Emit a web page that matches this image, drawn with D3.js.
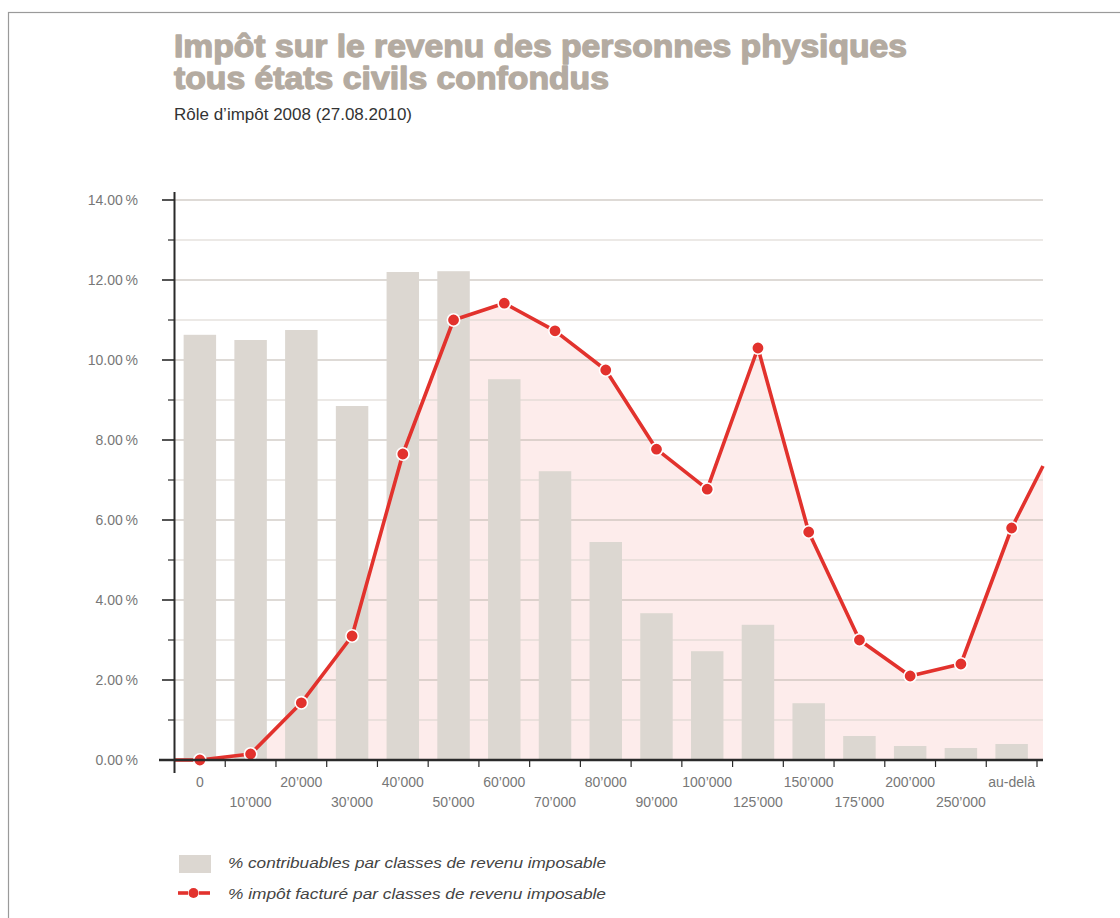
<!DOCTYPE html>
<html>
<head>
<meta charset="UTF-8">
<title>Impôt sur le revenu des personnes physiques</title>
<script src="https://cdn.jsdelivr.net/npm/d3@7"></script>
<style>
	body { margin: 0; background: #fff; }
	svg { display: block; }
</style>
</head>
<body>
<svg id="chart" width="1120" height="918"></svg>
<script>
// classes de revenu imposable
var categories = ["0", "10’000", "20’000", "30’000", "40’000", "50’000", "60’000", "70’000",
	"80’000", "90’000", "100’000", "125’000", "150’000", "175’000", "200’000", "250’000", "au-delà"];

// % contribuables par classe (barres)
var taxpayersPct = [10.63, 10.5, 10.75, 8.85, 12.2, 12.22, 9.52, 7.22, 5.45, 3.67, 2.72, 3.38, 1.42, 0.6, 0.35, 0.3, 0.4];

// % impôt facturé par classe (ligne)
var taxPct = [0, 0.15, 1.43, 3.1, 7.65, 11.0, 11.42, 10.73, 9.75, 7.77, 6.77, 10.3, 5.7, 3.0, 2.1, 2.4, 5.8];
var taxEdgeLeft = 0;
var taxEdgeRight = 7.35;

var yMajorTicks = [0, 2, 4, 6, 8, 10, 12, 14];
var yMinorTicks = [1, 3, 5, 7, 9, 11, 13];

var RED = "#e2322d";
var BAR = "#dcd7d1";
var PINK = "#fdeceb";
var GREY_TEXT = "#777";

var svg = d3.select("#chart");

// cadre
svg.append("rect")
	.attr("x", 8.5).attr("y", 12.5)
	.attr("width", 1200).attr("height", 1000)
	.attr("fill", "none").attr("stroke", "#9a9a9a").attr("stroke-width", 1.2);

// titre
var title = svg.append("g").attr("fill", "#b4aba1").attr("stroke", "#b4aba1").attr("stroke-width", 1.3)
	.attr("stroke-linejoin", "round")
	.style("font-family", "Liberation Sans, Arial, sans-serif").style("font-weight", "bold").style("font-size", "31px");
title.append("text").attr("x", 174).attr("y", 57)
	.attr("textLength", 733).attr("lengthAdjust", "spacingAndGlyphs")
	.text("Impôt sur le revenu des personnes physiques");
title.append("text").attr("x", 174).attr("y", 89)
	.attr("textLength", 435).attr("lengthAdjust", "spacingAndGlyphs")
	.text("tous états civils confondus");

svg.append("text").attr("x", 174).attr("y", 120)
	.attr("fill", "#333")
	.style("font-family", "Liberation Sans, Arial, sans-serif").style("font-size", "16px")
	.attr("textLength", 238).attr("lengthAdjust", "spacingAndGlyphs")
	.text("Rôle d’impôt 2008 (27.08.2010)");

// échelles
var left = 174.5, bandEnd = 1037, gridEnd = 1043;
var x = d3.scaleBand().domain(categories).range([left, bandEnd]).paddingInner(0.36).paddingOuter(0.18);
var step = x.step();
var cx = function (c) { return x(c) + x.bandwidth() / 2; };
var y = d3.scaleLinear().domain([0, 14]).range([760, 200]);

var plot = svg.append("g");

// surface rose sous la ligne
var linePts = [[left, taxEdgeLeft]]
	.concat(categories.map(function (c, i) { return [cx(c), taxPct[i]]; }))
	.concat([[gridEnd, taxEdgeRight]]);

plot.append("path")
	.datum(linePts)
	.attr("fill", PINK)
	.attr("d", d3.area().x(function (d) { return d[0]; }).y0(y(0)).y1(function (d) { return y(d[1]); }));

// grille
plot.selectAll(".gmin").data(yMinorTicks).enter().append("line")
	.attr("x1", left).attr("x2", gridEnd)
	.attr("y1", function (d) { return y(d); }).attr("y2", function (d) { return y(d); })
	.attr("stroke", "#d9d4ce").attr("stroke-width", 1.2);
plot.selectAll(".gmaj").data(yMajorTicks.filter(function (d) { return d > 0; })).enter().append("line")
	.attr("x1", left).attr("x2", gridEnd)
	.attr("y1", function (d) { return y(d); }).attr("y2", function (d) { return y(d); })
	.attr("stroke", "#bdb6ae").attr("stroke-width", 1.2);

// barres
plot.selectAll(".bar").data(categories).enter().append("rect")
	.attr("x", function (c) { return x(c); })
	.attr("width", x.bandwidth())
	.attr("y", function (c, i) { return y(taxpayersPct[i]); })
	.attr("height", function (c, i) { return y(0) - y(taxpayersPct[i]); })
	.attr("fill", BAR);

// axe Y
var yAxis = svg.append("g");
yAxis.append("line").attr("x1", left).attr("x2", left).attr("y1", 192).attr("y2", 773)
	.attr("stroke", "#2a2a2a").attr("stroke-width", 2);
yAxis.selectAll(".tmaj").data(yMajorTicks).enter().append("line")
	.attr("x1", 162).attr("x2", left)
	.attr("y1", function (d) { return y(d); }).attr("y2", function (d) { return y(d); })
	.attr("stroke", "#2a2a2a").attr("stroke-width", 1.6);
yAxis.selectAll(".tmin").data(yMinorTicks).enter().append("line")
	.attr("x1", 168).attr("x2", left)
	.attr("y1", function (d) { return y(d); }).attr("y2", function (d) { return y(d); })
	.attr("stroke", "#2a2a2a").attr("stroke-width", 1.2);
yAxis.selectAll(".ylab").data(yMajorTicks).enter().append("text")
	.attr("x", 138).attr("y", function (d) { return y(d); })
	.attr("dy", "0.35em").attr("text-anchor", "end")
	.attr("fill", GREY_TEXT)
	.style("font-family", "Liberation Sans, Arial, sans-serif").style("font-size", "14px")
	.text(function (d) { return d3.format(".2f")(d) + "\u2009%"; });

// axe X
var xAxis = svg.append("g");
xAxis.append("line").attr("x1", 159).attr("x2", gridEnd).attr("y1", y(0)).attr("y2", y(0))
	.attr("stroke", "#2a2a2a").attr("stroke-width", 2.6);
xAxis.selectAll(".xt").data(categories.slice(1)).enter().append("line")
	.attr("x1", function (c) { return x(c) - x.paddingInner() * step / 2; })
	.attr("x2", function (c) { return x(c) - x.paddingInner() * step / 2; })
	.attr("y1", y(0)).attr("y2", y(0) + 7)
	.attr("stroke", "#2a2a2a").attr("stroke-width", 1.2);
xAxis.append("line")
	.attr("x1", bandEnd).attr("x2", bandEnd).attr("y1", y(0)).attr("y2", y(0) + 7)
	.attr("stroke", "#2a2a2a").attr("stroke-width", 1.2);
xAxis.selectAll(".xlab").data(categories).enter().append("text")
	.attr("x", function (c) { return cx(c); })
	.attr("y", function (c, i) { return i % 2 === 0 ? 787 : 807; })
	.attr("text-anchor", "middle")
	.attr("fill", GREY_TEXT)
	.style("font-family", "Liberation Sans, Arial, sans-serif").style("font-size", "14px")
	.text(function (c) { return c; });

// ligne rouge
plot.append("path")
	.datum(linePts)
	.attr("fill", "none").attr("stroke", RED).attr("stroke-width", 3.6).attr("stroke-linejoin", "round")
	.attr("d", d3.line().x(function (d) { return d[0]; }).y(function (d) { return y(d[1]); }));

plot.selectAll(".dot").data(categories).enter().append("circle")
	.attr("cx", function (c) { return cx(c); })
	.attr("cy", function (c, i) { return y(taxPct[i]); })
	.attr("r", 6.2)
	.attr("fill", RED).attr("stroke", "#fff").attr("stroke-width", 1.6);

// légende
var legend = svg.append("g")
	.style("font-family", "Liberation Sans, Arial, sans-serif").style("font-size", "15.5px").style("font-style", "italic");
legend.append("rect").attr("x", 179).attr("y", 855).attr("width", 32).attr("height", 18).attr("fill", BAR);
legend.append("text").attr("x", 228).attr("y", 868).attr("fill", "#444")
	.attr("textLength", 378).attr("lengthAdjust", "spacingAndGlyphs")
	.text("% contribuables par classes de revenu imposable");
legend.append("line").attr("x1", 178).attr("x2", 188).attr("y1", 893).attr("y2", 893)
	.attr("stroke", RED).attr("stroke-width", 3.6);
legend.append("line").attr("x1", 199).attr("x2", 210).attr("y1", 893).attr("y2", 893)
	.attr("stroke", RED).attr("stroke-width", 3.6);
legend.append("circle").attr("cx", 193.5).attr("cy", 893).attr("r", 5).attr("fill", RED);
legend.append("text").attr("x", 228).attr("y", 899).attr("fill", "#444")
	.attr("textLength", 378).attr("lengthAdjust", "spacingAndGlyphs")
	.text("% impôt facturé par classes de revenu imposable");
</script>
</body>
</html>
